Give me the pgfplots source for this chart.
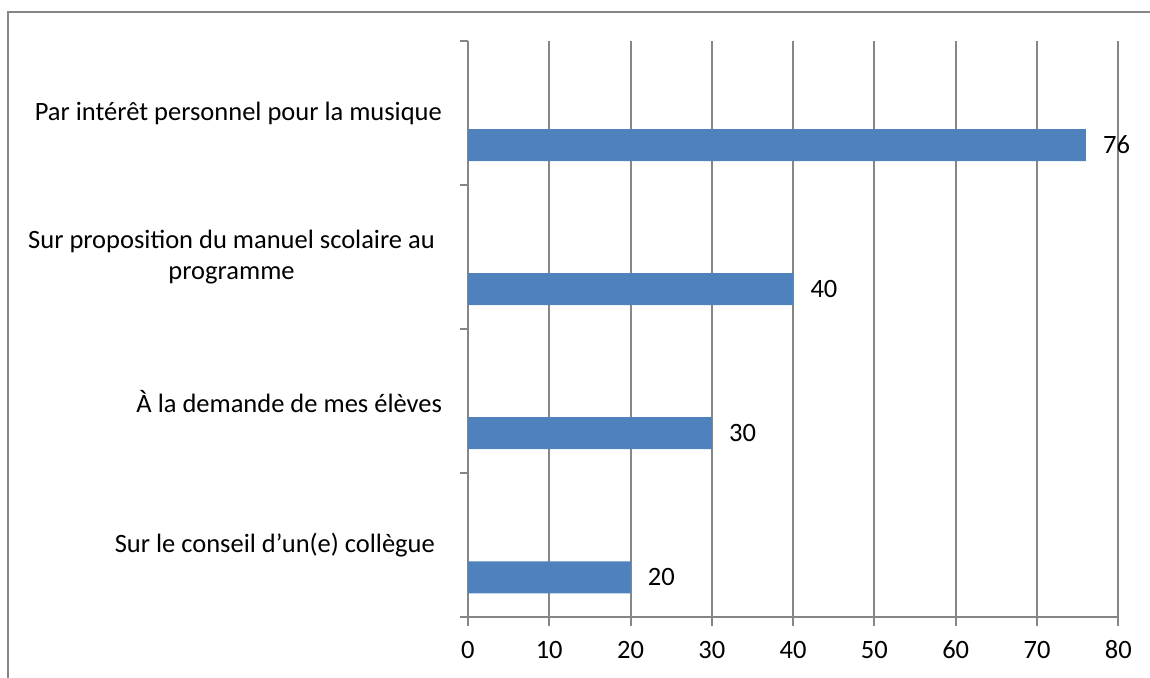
\documentclass[border=0pt]{standalone}
\usepackage{pgfplots}
\pgfplotsset{compat=1.18}
\usepackage{fontspec}
\setmainfont{Carlito}
\definecolor{barblue}{HTML}{4F81BD}
\definecolor{gridgray}{HTML}{868686}
\begin{document}
\begin{tikzpicture}
\useasboundingbox (0,0) rectangle (575pt,338.5pt);
\draw[gridgray, line width=0.85pt] (580pt,332.5pt) -- (4pt,332.5pt) -- (4pt,-5pt);
\begin{axis}[
  at={(233.95pt,29.85pt)}, anchor=south west,
  scale only axis, width=325.2pt, height=288.15pt,
  xmin=0, xmax=80, ymin=0, ymax=4,
  enlargelimits=false, clip=false,
  xtick={0,10,...,80},
  xmajorgrids,
  grid style={gridgray, line width=1pt},
  axis x line*=bottom, axis y line*=left,
  axis line style={gridgray, line width=1pt, -},
  tick align=outside,
  major tick length=4.2pt,
  tick style={gridgray, line width=1pt},
  ytick={0.5,1.5,2.5,3.5},
  yticklabels={Sur le conseil d’un(e) collègue\kern3.5pt, À la demande de mes élèves, {Sur proposition du manuel scolaire au\kern3.5pt\\programme\kern3.5pt}, Par intérêt personnel pour la musique},
  ytick style={draw=none},
  extra y ticks={0,1,2,3,4},
  extra y tick labels={},
  extra y tick style={ytick style={draw=gridgray, line width=1pt}},
  /pgf/number format/assume math mode=true,
  tick label style={font=\fontsize{13.25pt}{15.5pt}\selectfont, text=black},
  yticklabel style={align=center, anchor=east, inner sep=0pt, xshift=-8.6pt},
  xticklabel style={anchor=base, inner sep=0pt, yshift=-16.2pt},
  xbar, bar width=16pt,
  nodes near coords,
  nodes near coords style={anchor=west, inner sep=0pt, xshift=8.5pt, font=\fontsize{13.25pt}{15.5pt}\selectfont, text=black},
]
\addplot[fill=barblue, draw=none] coordinates {(20,0.2778) (30,1.2778) (40,2.2778) (76,3.2778)};
\end{axis}
\end{tikzpicture}
\end{document}
